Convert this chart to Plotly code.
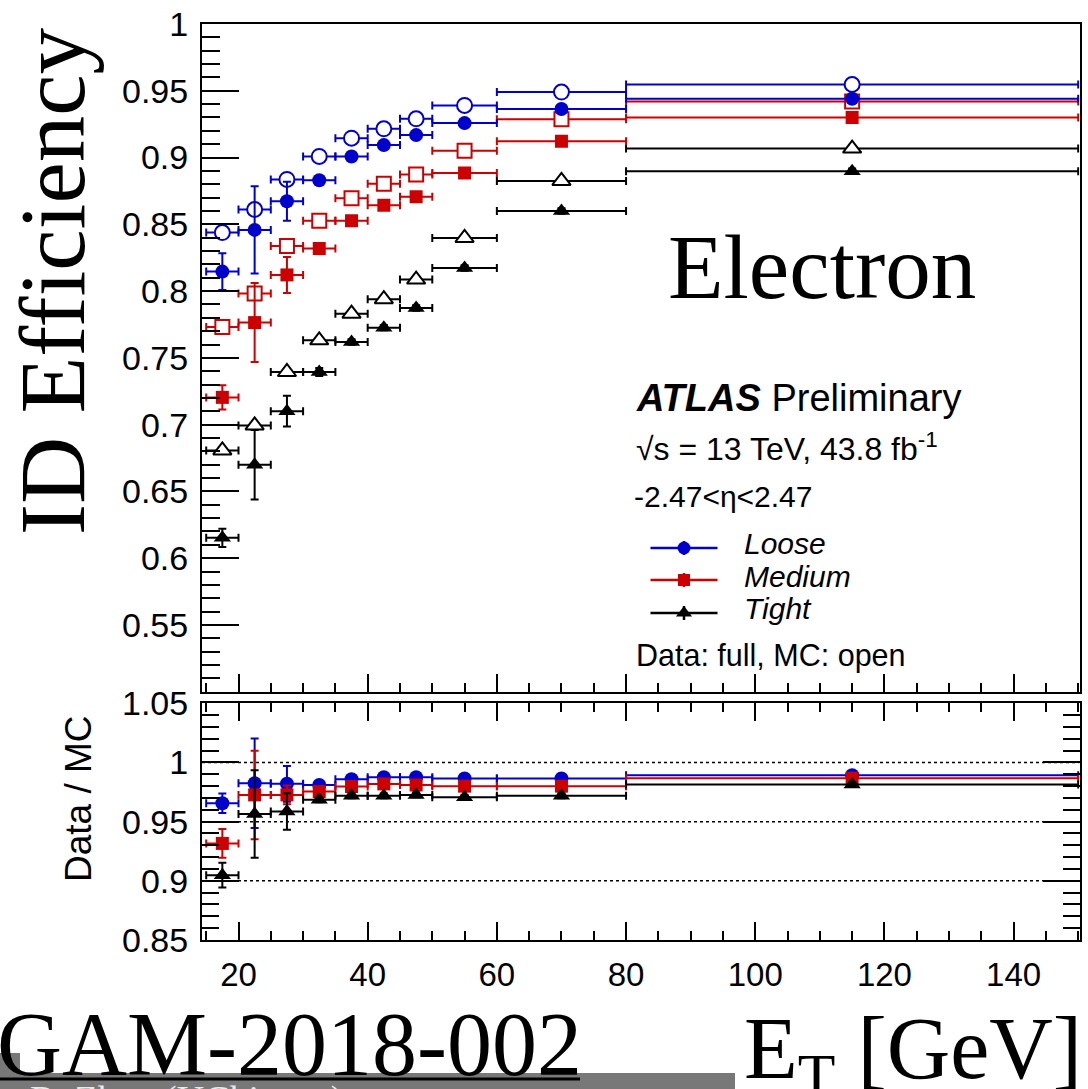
import plotly.graph_objects as go

# ---- binning in E_T [GeV] ----
bin_lo = [15, 20, 25, 30, 35, 40, 45, 50, 60, 80]
bin_hi = [20, 25, 30, 35, 40, 45, 50, 60, 80, 150]

# ---- identification efficiency, data (filled) ----
loose_data = [0.8146, 0.8458, 0.8673, 0.8830, 0.9008, 0.9093, 0.9168, 0.9258, 0.9363, 0.9440]
loose_data_err = [0.0137, 0.0327, 0.0146, 0.003, 0.002, 0.002, 0.002, 0.002, 0.002, 0.002]
medium_data = [0.7204, 0.7764, 0.8121, 0.8318, 0.8526, 0.8643, 0.8706, 0.8885, 0.9122, 0.9300]
medium_data_err = [0.0090, 0.0296, 0.0135, 0.003, 0.002, 0.002, 0.002, 0.002, 0.002, 0.002]
tight_data = [0.6152, 0.6700, 0.7101, 0.7394, 0.7619, 0.7726, 0.7873, 0.8173, 0.8600, 0.8897]
tight_data_err = [0.0069, 0.0260, 0.0116, 0.003, 0.002, 0.002, 0.002, 0.002, 0.002, 0.002]

# ---- identification efficiency, simulation (open) ----
loose_mc = [0.8438, 0.8611, 0.8836, 0.9008, 0.9145, 0.9215, 0.9290, 0.9390, 0.9490, 0.9547]
medium_mc = [0.7731, 0.7981, 0.8338, 0.8526, 0.8696, 0.8803, 0.8873, 0.9050, 0.9287, 0.9419]
tight_mc = [0.6807, 0.6994, 0.7394, 0.7631, 0.7831, 0.7939, 0.8086, 0.8398, 0.8825, 0.9067]

# ---- data / MC ratio ----
loose_ratio = [0.9655, 0.9825, 0.9820, 0.9810, 0.9859, 0.9876, 0.9876, 0.9864, 0.9864, 0.9893]
loose_ratio_err = [0.0082, 0.0378, 0.0151, 0.002, 0.002, 0.002, 0.002, 0.002, 0.002, 0.002]
medium_ratio = [0.9316, 0.9726, 0.9726, 0.9754, 0.9797, 0.9819, 0.9810, 0.9800, 0.9800, 0.9867]
medium_ratio_err = [0.0121, 0.0374, 0.0080, 0.002, 0.002, 0.002, 0.002, 0.002, 0.002, 0.002]
tight_ratio = [0.9048, 0.9565, 0.9585, 0.9684, 0.9718, 0.9718, 0.9726, 0.9706, 0.9718, 0.9814]
tight_ratio_err = [0.0105, 0.0370, 0.0154, 0.002, 0.002, 0.002, 0.002, 0.002, 0.002, 0.002]

# ---- tick labels ----
eff_ticks = [0.55, 0.6, 0.65, 0.7, 0.75, 0.8, 0.85, 0.9, 0.95, 1.0]
eff_ticktext = ["0.55", "0.6", "0.65", "0.7", "0.75", "0.8", "0.85", "0.9", "0.95", "1"]
ratio_ticks = [0.85, 0.9, 0.95, 1.0, 1.05]
ratio_ticktext = ["0.85", "0.9", "0.95", "1", "1.05"]
et_ticks = [20, 40, 60, 80, 100, 120, 140]
et_ticktext = ["20", "40", "60", "80", "100", "120", "140"]

series = [
    ("Loose", "#0000cc", "circle", loose_data, loose_data_err, loose_mc, loose_ratio, loose_ratio_err),
    ("Medium", "#cc0000", "square", medium_data, medium_data_err, medium_mc, medium_ratio, medium_ratio_err),
    ("Tight", "#000000", "triangle-up", tight_data, tight_data_err, tight_mc, tight_ratio, tight_ratio_err),
]

W, H = 1088, 1089
SANS = "Liberation Sans"
SERIF = "Liberation Serif"


def fx(px):
    return px / W


def fy(py):
    return 1 - py / H


centres = [(a + b) / 2 for a, b in zip(bin_lo, bin_hi)]
half_w = [(b - a) / 2 for a, b in zip(bin_lo, bin_hi)]

msize = {"circle": 14, "square": 13, "triangle-up": 15}

fig = go.Figure()

# open markers: simulation
for name, col, sym, d, de, mc, r, re in series:
    fig.add_trace(go.Scatter(
        x=centres, y=mc, mode="markers", xaxis="x", yaxis="y", showlegend=False,
        marker=dict(symbol=sym, size=msize[sym] + 1, color="white", line=dict(color=col, width=2)),
        error_x=dict(type="data", array=half_w, color=col, thickness=2, width=4),
    ))

# filled markers: data
for name, col, sym, d, de, mc, r, re in series:
    fig.add_trace(go.Scatter(
        x=centres, y=d, mode="markers", xaxis="x", yaxis="y", showlegend=False,
        marker=dict(symbol=sym, size=msize[sym], color=col, line=dict(width=0)),
        error_x=dict(type="data", array=half_w, color=col, thickness=2, width=4),
        error_y=dict(type="data", array=de, color=col, thickness=2, width=4),
    ))

# ratio panel
for name, col, sym, d, de, mc, r, re in series:
    fig.add_trace(go.Scatter(
        x=centres, y=r, mode="markers", xaxis="x2", yaxis="y2", showlegend=False,
        marker=dict(symbol=sym, size=msize[sym], color=col, line=dict(width=0)),
        error_x=dict(type="data", array=half_w, color=col, thickness=2, width=4),
        error_y=dict(type="data", array=re, color=col, thickness=2, width=4),
    ))

# legend glyphs, drawn on a page-pixel overlay axis
leg_y = [548, 580, 613]
for (name, col, sym, *_), ly in zip(series, leg_y):
    fig.add_trace(go.Scatter(
        x=[684], y=[ly], mode="markers", xaxis="x3", yaxis="y3", showlegend=False,
        marker=dict(symbol=sym, size=msize[sym] - 1, color=col, line=dict(width=0)),
        error_x=dict(type="data", array=[33.5], color=col, thickness=2.5, width=0),
        error_y=dict(type="data", array=[7], color=col, thickness=2.5, width=0),
    ))

XDOM = [fx(202), fx(1079.5)]
XRANGE = [14.35, 150.2]
tickcommon = dict(ticks="inside", tickcolor="black", tickwidth=1.5, showgrid=False, zeroline=False,
                  showline=True, linecolor="black", linewidth=2, automargin=False)

fig.update_layout(
    width=W, height=H, margin=dict(l=0, r=0, t=0, b=0, pad=0, autoexpand=False),
    paper_bgcolor="white", plot_bgcolor="rgba(0,0,0,0)",
    xaxis=dict(domain=XDOM, range=XRANGE, anchor="y", mirror=True, tickvals=et_ticks,
               showticklabels=False, ticklen=18,
               minor=dict(ticks="inside", dtick=5, tick0=0, ticklen=9, tickcolor="black", tickwidth=1.5,
                          showgrid=False),
               **tickcommon),
    yaxis=dict(domain=[fy(691.7), fy(24)], range=[0.5, 1.0], anchor="x", mirror=True,
               tickvals=eff_ticks, ticktext=eff_ticktext, ticklen=37, ticklabelstandoff=5,
               tickfont=dict(family=SANS, size=34, color="black"),
               minor=dict(ticks="inside", dtick=0.01, tick0=0, ticklen=18, tickcolor="black", tickwidth=1.5,
                          showgrid=False),
               **tickcommon),
    xaxis2=dict(domain=XDOM, range=XRANGE, anchor="y2", mirror="allticks", tickvals=et_ticks,
                ticktext=et_ticktext, ticklen=18, ticklabelstandoff=4,
                tickfont=dict(family=SANS, size=33, color="black"),
                minor=dict(ticks="inside", dtick=5, tick0=0, ticklen=9, tickcolor="black", tickwidth=1.5,
                           showgrid=False),
                **tickcommon),
    yaxis2=dict(domain=[fy(940), fy(703.3)], range=[0.85, 1.05], anchor="x2", mirror="allticks",
                tickvals=ratio_ticks, ticktext=ratio_ticktext, ticklen=37, ticklabelstandoff=5,
                tickfont=dict(family=SANS, size=34, color="black"),
                minor=dict(ticks="inside", dtick=0.01, tick0=0, ticklen=17, tickcolor="black", tickwidth=1.5,
                           showgrid=False),
                **tickcommon),
    xaxis3=dict(domain=[0, 1], range=[0, W], anchor="y3", visible=False, fixedrange=True, automargin=False),
    yaxis3=dict(domain=[0, 1], range=[H, 0], anchor="x3", visible=False, fixedrange=True, automargin=False),
)

# dotted reference lines in the ratio panel
for v in [1.0, 0.95, 0.9]:
    fig.add_shape(type="line", xref="x2", yref="y2", x0=XRANGE[0], x1=XRANGE[1], y0=v, y1=v,
                  line=dict(color="black", width=1.5, dash="dot"), layer="below")

# footer bar
fig.add_shape(type="rect", xref="paper", yref="paper", x0=0, x1=fx(735), y0=fy(1089), y1=fy(1073),
              fillcolor="#787878", line=dict(width=0))
fig.add_shape(type="rect", xref="paper", yref="paper", x0=0, x1=fx(20), y0=fy(1073), y1=fy(1053),
              fillcolor="#787878", line=dict(width=0))
fig.add_shape(type="line", xref="paper", yref="paper", x0=0, x1=fx(580), y0=fy(1079), y1=fy(1079),
              line=dict(color="black", width=3))


def text(s, x, baseline, size, family=SANS, xanchor="left", angle=0, color="black", serif=False):
    asc, desc = (0.891, 0.216) if serif else (0.905, 0.212)
    centre = baseline - (asc - desc) / 2 * size
    fig.add_annotation(text=s, x=fx(x), y=fy(centre), xref="paper", yref="paper",
                       xanchor=xanchor, yanchor="middle", showarrow=False, textangle=angle,
                       font=dict(family=family, size=size, color=color))


text("Electron", 822, 298, 91, family=SERIF, xanchor="center", serif=True)
text("<b><i>ATLAS</i></b> Preliminary", 634, 411, 38)
text("√s = 13 TeV, 43.8 fb<sup>-1</sup>", 634, 458, 32)
text("-2.47<η<2.47", 632, 507, 30)
text("<i>Loose</i>", 742, 554, 30)
text("<i>Medium</i>", 742, 587, 30)
text("<i>Tight</i>", 742, 619, 30)
text("Data: full, MC: open", 634, 666, 30.5)
text("GAM-2018-002", -5, 1075, 90, family=SERIF, serif=True)
text("E<sub>T</sub> [GeV]", 1084, 1084, 88, family=SERIF, xanchor="right", serif=True)
text("R. Zhou (UChicago)", 28, 1112, 38, family=SERIF, color="#e8e8e8", serif=True)

# rotated axis titles
fig.add_annotation(text="ID Efficiency", x=fx(53), y=fy(282), xref="paper", yref="paper",
                   xanchor="center", yanchor="middle", showarrow=False, textangle=-90,
                   font=dict(family=SERIF, size=93, color="black"))
fig.add_annotation(text="Data / MC", x=fx(78), y=fy(799), xref="paper", yref="paper",
                   xanchor="center", yanchor="middle", showarrow=False, textangle=-90,
                   font=dict(family=SANS, size=37, color="black"))

fig.write_html("out.html")
